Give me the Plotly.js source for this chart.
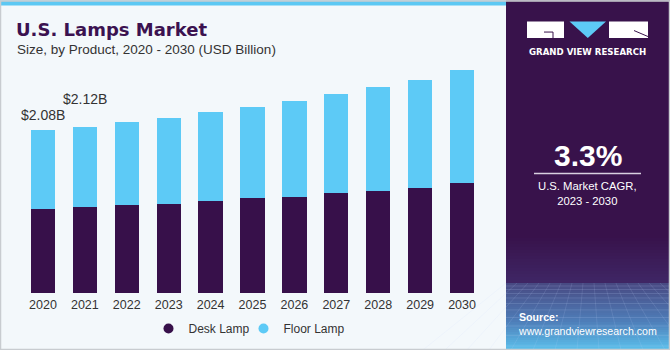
<!DOCTYPE html>
<html>
<head>
<meta charset="utf-8">
<script src="https://cdn.plot.ly/plotly-3.0.1.min.js"></script>
<style>html,body{margin:0;padding:0;background:#F3F8FB;}#chart{width:670px;height:350px;}</style>
</head>
<body>
<div id="chart"></div>
<script>
// ---- data ----
const years = ['2020','2021','2022','2023','2024','2025','2026','2027','2028','2029','2030'];
const deskLamp  = [1.07, 1.10, 1.12, 1.14, 1.18, 1.21, 1.23, 1.28, 1.30, 1.34, 1.40];
const floorLamp = [1.01, 1.02, 1.06, 1.10, 1.13, 1.17, 1.22, 1.26, 1.33, 1.38, 1.45];
const labelYears = ['2020', '2021'];
const labelTexts = ['&#36;2.08B', '&#36;2.12B'];
const seriesNames = ['Desk Lamp', 'Floor Lamp'];
const cagrText = '3.3%';

// ---- geometry helpers (pixel -> paper) ----
const W = 670, H = 350;
const M = {l: 22, r: 187, t: 57.5, b: 57, autoexpand: false};
const PW = W - M.l - M.r, PH = H - M.t - M.b;
const px = x => (x - M.l) / PW;
const py = y => (H - M.b - y) / PH;

const desk = '#37104A', floor = '#5DCAF6', panel = '#38124B';
const FONT = 'Liberation Sans, Arial, sans-serif';

const totals = years.map((y, i) => deskLamp[i] + floorLamp[i]);

const traces = [
  {type: 'bar', x: years, y: deskLamp, name: seriesNames[0], marker: {color: desk}, width: 0.58, showlegend: false},
  {type: 'bar', x: years, y: floorLamp, name: seriesNames[1], marker: {color: floor}, width: 0.58, showlegend: false},
  {type: 'scatter', mode: 'markers', x: [null], y: [null], name: seriesNames[0], marker: {color: desk, size: 10, symbol: 'circle'}, showlegend: true, legend: 'legend'},
  {type: 'scatter', mode: 'markers', x: [null], y: [null], name: seriesNames[1], marker: {color: floor, size: 10, symbol: 'circle'}, showlegend: true, legend: 'legend2'}
];

const white = '#FFFFFF';
const shapes = [
  {type: 'rect', xref: 'paper', yref: 'paper', x0: px(0), x1: px(506), y0: py(0), y1: py(5), fillcolor: '#5CC8F3', line: {width: 0}, layer: 'below'},
  {type: 'rect', xref: 'paper', yref: 'paper', x0: px(506), x1: px(670), y0: py(0), y1: py(350), fillcolor: panel, line: {width: 0}, layer: 'below'}
];
function mix(a, b, t) {
  const pa = [1,3,5].map(i => parseInt(a.substr(i,2),16)), pb = [1,3,5].map(i => parseInt(b.substr(i,2),16));
  return 'rgb(' + pa.map((v,i) => Math.round(v + (pb[i]-v)*t)).join(',') + ')';
}
function band(y0, y1, c0, c1, step) {
  for (let y = y0; y < y1; y += step) {
    const t = (y - y0) / (y1 - y0);
    shapes.push({type: 'rect', xref: 'paper', yref: 'paper', x0: px(506), x1: px(670), y0: py(y), y1: py(Math.min(y + step + 0.5, y1)), fillcolor: mix(c0, c1, t), line: {width: 0}, layer: 'below'});
  }
}
band(235, 283, '#38124B', '#3F2766', 3);
band(283, 320, '#484A83', '#4E7DB8', 2);
band(320, 350, '#4E7DB8', '#5CC3EE', 2);
[286, 289.5, 293.5, 298, 303.5, 310, 317.5, 326, 335.5, 346].forEach(y => {
  shapes.push({type: 'line', xref: 'paper', yref: 'paper', x0: px(506), x1: px(670), y0: py(y), y1: py(y), line: {color: 'rgba(200,220,255,0.16)', width: 1}, layer: 'below'});
});
for (let k = 0; k < 16; k++) {
  const xt = 506 + k * 11, xb = 506 + (k - 7.5) * 22 + 82;
  shapes.push({type: 'line', xref: 'paper', yref: 'paper', x0: px(xt), x1: px(xb), y0: py(283), y1: py(350), line: {color: 'rgba(200,220,255,0.13)', width: 1}, layer: 'below'});
}
shapes.push(
  {type: 'rect', xref: 'paper', yref: 'paper', x0: px(0.5), x1: px(669.5), y0: py(0.5), y1: py(349.5), line: {color: '#C8CCD0', width: 1.5}, fillcolor: 'rgba(0,0,0,0)'},
  {type: 'rect', xref: 'paper', yref: 'paper', x0: px(527), x1: px(564), y0: py(21), y1: py(37.5), fillcolor: white, line: {width: 0}},
  {type: 'path', xref: 'paper', yref: 'paper', path: `M ${px(569.5)} ${py(21)} L ${px(606)} ${py(21)} L ${px(587.8)} ${py(37.5)} Z`, fillcolor: floor, line: {width: 0}},
  {type: 'rect', xref: 'paper', yref: 'paper', x0: px(609), x1: px(648), y0: py(21), y1: py(37.5), fillcolor: white, line: {width: 0}},
  {type: 'path', xref: 'paper', yref: 'paper', path: `M ${px(544)} ${py(31.5)} L ${px(553)} ${py(31.5)} L ${px(553)} ${py(37.5)}`, line: {color: panel, width: 1}},
  {type: 'path', xref: 'paper', yref: 'paper', path: `M ${px(634)} ${py(30)} L ${px(648)} ${py(36)}`, line: {color: panel, width: 1}},
  {type: 'line', xref: 'paper', yref: 'paper', x0: px(534), x1: px(641), y0: py(173.3), y1: py(173.3), line: {color: '#D8D0E0', width: 1.5}}
);

const ann = (text, x, y, size, color, opts) => Object.assign({
  text: text, xref: 'paper', yref: 'paper', x: px(x), y: py(y), showarrow: false,
  font: {family: FONT, size: size, color: color}
}, opts || {});

const annotations = [
  ann('<b>U.S. Lamps Market</b>', 14, 28.5, 18, '#3B1250', {xanchor: 'left', yanchor: 'middle', font: {family: 'DejaVu Sans, sans-serif', size: 18, color: '#3B1250'}}),
  ann('Size, by Product, 2020 - 2030 (USD Billion)', 15, 49, 13.5, '#333333', {xanchor: 'left', yanchor: 'middle'}),
  ann('<b>GRAND VIEW RESEARCH</b>', 587.5, 51.5, 8.6, white, {xanchor: 'center', yanchor: 'middle', font: {family: 'DejaVu Sans, sans-serif', size: 8.6, color: white}}),
  ann('<b>' + cagrText + '</b>', 587.5, 155, 30, white, {xanchor: 'center', yanchor: 'middle'}),
  ann('U.S. Market CAGR,<br>2023 - 2030', 587.5, 193, 11.3, white, {xanchor: 'center', yanchor: 'middle'}),
  ann('<b>Source:</b><br>www.grandviewresearch.com', 516, 324.5, 10.6, white, {xanchor: 'left', yanchor: 'middle', align: 'left'})
];
labelYears.forEach((yr, k) => {
  const i = years.indexOf(yr);
  annotations.push({
    text: labelTexts[k], x: i, y: totals[i], xref: 'x', yref: 'y', showarrow: false,
    xanchor: 'center', yanchor: 'bottom', yshift: k === 0 ? 5 : 18,
    font: {family: FONT, size: 14, color: '#333333'}
  });
});

const legendBase = {orientation: 'h', xanchor: 'left', y: py(328.5), yanchor: 'middle',
  font: {family: FONT, size: 12, color: '#333333'}, itemwidth: 30, bgcolor: 'rgba(0,0,0,0)'};

const layout = {
  width: W, height: H,
  margin: M,
  paper_bgcolor: '#F3F8FB', plot_bgcolor: 'rgba(0,0,0,0)',
  barmode: 'stack', bargap: 0.42,
  showlegend: true,
  legend: Object.assign({}, legendBase, {x: px(148.5)}),
  legend2: Object.assign({}, legendBase, {x: px(243.5)}),
  xaxis: {type: 'category', showgrid: false, zeroline: false, showline: false, ticks: '', ticklabelstandoff: 2,
    tickfont: {family: FONT, size: 12.5, color: '#333333'}, range: [-0.5, 10.5], fixedrange: true},
  yaxis: {range: [0, 3], visible: false, showgrid: false, zeroline: false, fixedrange: true},
  shapes: shapes,
  annotations: annotations
};

Plotly.newPlot('chart', traces, layout, {displayModeBar: false, staticPlot: true});
</script>
</body>
</html>
